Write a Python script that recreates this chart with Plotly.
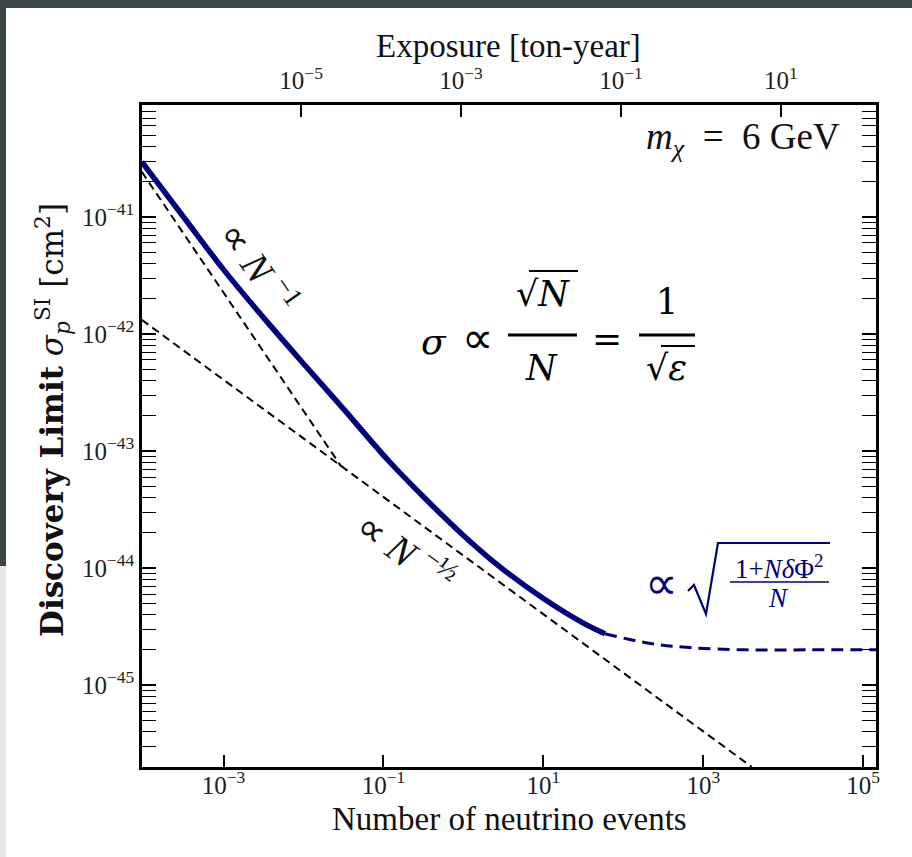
import plotly.graph_objects as go

# ---------------- data ----------------
# Discovery limit curve (solid part)
n_solid = [9.5e-5, 3.16e-4, 1e-3, 3.16e-3, 9.1e-3, 3.16e-2, 0.115, 0.316, 1.0, 2.88, 10, 31.6, 58.9]
sigma_solid = [2.95e-41, 1.0e-41, 3.55e-42, 1.38e-42, 6.0e-43, 2.29e-43, 8.3e-44, 4.07e-44,
               1.9e-44, 1.02e-44, 5.5e-45, 3.39e-45, 2.75e-45]
# Discovery limit curve (dashed continuation, systematics floor)
n_floor = [58.9, 200, 676, 3470, 2.0e4, 1.45e5]
sigma_floor = [2.75e-45, 2.29e-45, 2.09e-45, 2.0e-45, 2.0e-45, 2.0e-45]
# Guide line proportional to N^-1
n_guide1 = [9.5e-5, 2.95e-2]
sigma_guide1 = [2.43e-41, 7.4e-44]
# Guide line proportional to N^-1/2
n_guide2 = [9.5e-5, 4.03e3]
sigma_guide2 = [1.32e-42, 2.0e-46]

x_ticks = [1e-3, 1e-1, 1e1, 1e3, 1e5]
x_ticktext = ["10<sup>−3</sup>", "10<sup>−1</sup>", "10<sup>1</sup>", "10<sup>3</sup>", "10<sup>5</sup>"]
exp_ticks = [1e-5, 1e-3, 1e-1, 1e1]
exp_ticktext = ["10<sup>−5</sup>", "10<sup>−3</sup>", "10<sup>−1</sup>", "10<sup>1</sup>"]
y_ticks = [1e-45, 1e-44, 1e-43, 1e-42, 1e-41]
y_ticktext = ["10<sup>−45</sup>", "10<sup>−44</sup>", "10<sup>−43</sup>", "10<sup>−42</sup>", "10<sup>−41</sup>"]
y_minor = [k * 10.0 ** e for e in range(-46, -40) for k in range(2, 10)]

NAVY = "#00007f"
FONT = "Liberation Serif"
MATH = "DejaVu Serif"

# ---------------- geometry helpers (pixel -> paper) ----------------
W, H = 912, 857
L, R, T, B = 142, 876, 105, 767


def px(x):
    return (x - L) / (R - L)


def py(y):
    return (B - y) / (B - T)


fig = go.Figure()
fig.add_trace(go.Scatter(x=n_guide1, y=sigma_guide1, mode="lines",
                         line=dict(color="black", width=2, dash="8px,5px"), hoverinfo="skip"))
fig.add_trace(go.Scatter(x=n_guide2, y=sigma_guide2, mode="lines",
                         line=dict(color="black", width=2, dash="8px,5px"), hoverinfo="skip"))
fig.add_trace(go.Scatter(x=n_floor, y=sigma_floor, mode="lines", line_shape="spline",
                         line=dict(color=NAVY, width=3, dash="12px,7px"), hoverinfo="skip"))
fig.add_trace(go.Scatter(x=n_solid, y=sigma_solid, mode="lines", line_shape="spline",
                         line=dict(color=NAVY, width=5.5), hoverinfo="skip"))
# dummy trace to activate the top (exposure) axis
fig.add_trace(go.Scatter(x=exp_ticks, y=[None] * len(exp_ticks), xaxis="x2", mode="lines",
                         hoverinfo="skip"))

axis_common = dict(showgrid=False, zeroline=False, showline=True, linecolor="black",
                   linewidth=2.5, ticks="inside", tickcolor="black",
                   tickfont=dict(family=FONT, size=25, color="#222"))

fig.update_layout(
    width=W, height=H,
    margin=dict(l=L, r=W - R, t=T, b=H - B),
    paper_bgcolor="white", plot_bgcolor="white",
    showlegend=False,
    xaxis=dict(type="log", range=[-4.02, 5.16], tickmode="array", tickvals=x_ticks,
               ticktext=x_ticktext, ticklen=12, tickwidth=1.5, mirror=True,
               ticklabelstandoff=-6, **axis_common),
    xaxis2=dict(type="log", range=[-6.99, 2.19], overlaying="x", side="top", anchor="y",
                tickmode="array", tickvals=exp_ticks, ticktext=exp_ticktext,
                ticklen=12, tickwidth=1.5, ticklabelstandoff=3, **axis_common),
    yaxis=dict(type="log", range=[-45.70, -40.043], tickmode="array", tickvals=y_ticks,
               ticktext=y_ticktext, ticklen=14, tickwidth=2, mirror="allticks",
               minor=dict(tickmode="array", tickvals=y_minor, ticks="inside", ticklen=9,
                          tickwidth=1.2, tickcolor="black", showgrid=False),
               **axis_common),
)


def A(x, y, text, size, family=FONT, color="#111", **kw):
    d = dict(x=px(x), y=py(y), xref="paper", yref="paper", showarrow=False,
             xanchor="center", yanchor="middle", text=text,
             font=dict(family=family, size=size, color=color))
    d.update(kw)
    return d


ann = [
    # axis titles
    A(509, 819, "Number of neutrino events", 33),
    A(508, 46, "Exposure [ton-year]", 33),
    A(52, 420, "<b>Discovery Limit</b> <i>σ</i><sub><i>p</i></sub><sup>SI</sup> [cm<sup>2</sup>]",
      31, family="DejaVu Serif", textangle=-90),
    # mass label
    A(842, 140, "<i>m</i><sub><i>χ</i></sub>  =  6 GeV", 37, xanchor="right"),
    # slope labels
    A(260, 266, "∝ <i>N</i> <sup>−1</sup>", 39, textangle=55),
    A(406, 550, "∝ <i>N</i> <sup>−½</sup>", 39, textangle=36),
    # big black formula
    A(434, 341, "<i>σ</i>", 36, family=MATH, color="black"),
    A(477, 338, "∝", 44, family=FONT, color="black"),
    A(543, 294, "√<i>N</i>", 35, family=MATH, color="black"),
    A(541, 368, "<i>N</i>", 35, family=MATH, color="black"),
    A(607, 338, "=", 36, family=MATH, color="black"),
    A(667, 302, "1", 35, family=MATH, color="black"),
    A(666, 368, "√<i>ε</i>", 35, family=MATH, color="black"),
    # navy formula
    A(661, 583, "∝", 46, color=NAVY),
    A(779, 567, "1+<i>N</i><i>δ</i>Φ<sup>2</sup>", 27, color=NAVY),
    A(778, 598, "<i>N</i>", 27, color=NAVY),
]
fig.update_layout(annotations=ann)

shapes = []
# slide background pieces around the figure
shapes.append(dict(type="rect", xref="paper", yref="paper", x0=px(0), x1=px(W), y0=py(0), y1=py(8),
                   fillcolor="#3c4649", line_width=0, layer="above"))
shapes.append(dict(type="rect", xref="paper", yref="paper", x0=px(0), x1=px(6), y0=py(0), y1=py(566),
                   fillcolor="#3c4649", line_width=0, layer="above"))
shapes.append(dict(type="rect", xref="paper", yref="paper", x0=px(0), x1=px(6), y0=py(566), y1=py(H),
                   fillcolor="#ebe8e5", line_width=0, layer="above"))


def hline(x0, x1, y, color, width):
    return dict(type="line", xref="paper", yref="paper", x0=px(x0), x1=px(x1), y0=py(y), y1=py(y),
                line=dict(color=color, width=width))


# fraction bars and overlines for big formula
shapes.append(hline(508, 577, 335, "black", 3))
shapes.append(hline(639, 695, 335, "black", 3))
shapes.append(hline(529, 578, 271, "black", 2))
shapes.append(hline(661, 695, 346, "black", 2))
# radical and bar for navy formula
path = "M {:.4f},{:.4f} L {:.4f},{:.4f} L {:.4f},{:.4f} L {:.4f},{:.4f} L {:.4f},{:.4f}".format(
    px(688), py(591), px(694), py(585), px(706), py(614), px(718), py(543), px(830), py(543))
shapes.append(dict(type="path", xref="paper", yref="paper", path=path, line=dict(color=NAVY, width=2.2)))
shapes.append(hline(730, 829, 582, NAVY, 1.5))
fig.update_layout(shapes=shapes)

fig.write_html("out.html", config={"displayModeBar": False},
               post_script="document.body.style.margin='0px';")
